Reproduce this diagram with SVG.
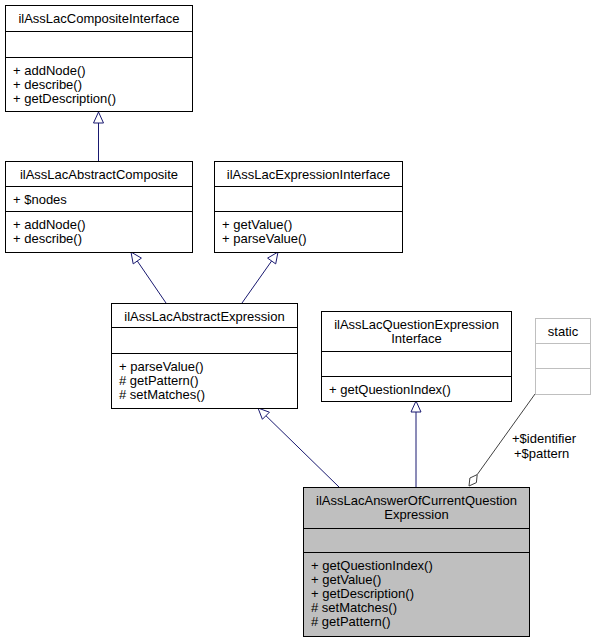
<svg xmlns="http://www.w3.org/2000/svg" width="595" height="643" viewBox="0 0 595 643">
<style>
text{font-family:"Liberation Sans",Arial,sans-serif;font-size:13px;fill:#000}
.t{text-anchor:middle}
.b{fill:#fff;stroke:#000;stroke-width:1}
.g{fill:#fff;stroke:#bfbfbf;stroke-width:1}
.cur{fill:#bfbfbf;stroke:#000;stroke-width:1}
.s{stroke:#000;stroke-width:1}
.sg{stroke:#bfbfbf;stroke-width:1}
.e{stroke:#191970;stroke-width:1;fill:none}
.h{fill:#fff;stroke:#191970;stroke-width:1}
.a{stroke:#404040;stroke-width:1;fill:none}
.d{fill:#fff;stroke:#404040;stroke-width:1}
</style>
<rect width="595" height="643" fill="#fff"/>
<g id="connectors">
<line class="e" x1="98.5" y1="161" x2="98.5" y2="123"/>
<polygon class="h" points="98.5,112 93.5,123 103.5,123"/>
<line class="e" x1="166" y1="303" x2="137.3" y2="261"/>
<polygon class="h" points="131,252 133.2,263.9 141.4,258.1"/>
<line class="e" x1="242" y1="303" x2="271.6" y2="261"/>
<polygon class="h" points="278,252 275.7,263.9 267.6,258.1"/>
<line class="e" x1="339" y1="487" x2="265.9" y2="415.7"/>
<polygon class="h" points="258,408 262.4,419.3 269.4,412.2"/>
<line class="e" x1="416" y1="487" x2="416" y2="412"/>
<polygon class="h" points="416,401 411,412 421,412"/>
<line class="a" x1="535" y1="394" x2="477.2" y2="474.6"/>
<polygon class="d" points="469,486 476.4,482.6 477.2,474.6 469.9,478"/>
<text x="512" y="443">+$identifier</text>
<text x="514" y="458">+$pattern</text>
</g>
<g id="ilAssLacCompositeInterface">
<rect class="b" x="5.5" y="5.5" width="187" height="106"/>
<line class="s" x1="5.5" y1="31.5" x2="192.5" y2="31.5"/>
<line class="s" x1="5.5" y1="57.5" x2="192.5" y2="57.5"/>
<text class="t" x="99" y="23">ilAssLacCompositeInterface</text>
<text x="13" y="75">+ addNode()</text>
<text x="13" y="89">+ describe()</text>
<text x="13" y="103">+ getDescription()</text>
</g>
<g id="ilAssLacAbstractComposite">
<rect class="b" x="5.5" y="161.5" width="187" height="91"/>
<line class="s" x1="5.5" y1="186.5" x2="192.5" y2="186.5"/>
<line class="s" x1="5.5" y1="211.5" x2="192.5" y2="211.5"/>
<text class="t" x="99" y="179">ilAssLacAbstractComposite</text>
<text x="13" y="204">+ $nodes</text>
<text x="13" y="229">+ addNode()</text>
<text x="13" y="243">+ describe()</text>
</g>
<g id="ilAssLacExpressionInterface">
<rect class="b" x="214.5" y="161.5" width="188" height="91"/>
<line class="s" x1="214.5" y1="186.5" x2="402.5" y2="186.5"/>
<line class="s" x1="214.5" y1="211.5" x2="402.5" y2="211.5"/>
<text class="t" x="308.5" y="179">ilAssLacExpressionInterface</text>
<text x="222" y="229">+ getValue()</text>
<text x="222" y="243">+ parseValue()</text>
</g>
<g id="ilAssLacAbstractExpression">
<rect class="b" x="111.5" y="303.5" width="186" height="105"/>
<line class="s" x1="111.5" y1="327.5" x2="297.5" y2="327.5"/>
<line class="s" x1="111.5" y1="353.5" x2="297.5" y2="353.5"/>
<text class="t" x="204.5" y="321">ilAssLacAbstractExpression</text>
<text x="119" y="371">+ parseValue()</text>
<text x="119" y="385"># getPattern()</text>
<text x="119" y="399"># setMatches()</text>
</g>
<g id="ilAssLacQuestionExpressionInterface">
<rect class="b" x="321.5" y="311.5" width="190" height="90"/>
<line class="s" x1="321.5" y1="351.5" x2="511.5" y2="351.5"/>
<line class="s" x1="321.5" y1="376.5" x2="511.5" y2="376.5"/>
<text class="t" x="416.5" y="329">ilAssLacQuestionExpression</text>
<text class="t" x="416.5" y="343">Interface</text>
<text x="329" y="394">+ getQuestionIndex()</text>
</g>
<g id="static">
<rect class="g" x="535.5" y="318.5" width="55" height="76"/>
<line class="sg" x1="535.5" y1="343.5" x2="590.5" y2="343.5"/>
<line class="sg" x1="535.5" y1="368.5" x2="590.5" y2="368.5"/>
<text class="t" x="563" y="336">static</text>
</g>
<g id="ilAssLacAnswerOfCurrentQuestionExpression">
<rect class="cur" x="303.5" y="487.5" width="226" height="149"/>
<line class="s" x1="303.5" y1="528.5" x2="529.5" y2="528.5"/>
<line class="s" x1="303.5" y1="552.5" x2="529.5" y2="552.5"/>
<text class="t" x="416.5" y="505">ilAssLacAnswerOfCurrentQuestion</text>
<text class="t" x="416.5" y="519">Expression</text>
<text x="311" y="570">+ getQuestionIndex()</text>
<text x="311" y="584">+ getValue()</text>
<text x="311" y="598">+ getDescription()</text>
<text x="311" y="612"># setMatches()</text>
<text x="311" y="626"># getPattern()</text>
</g>
</svg>
